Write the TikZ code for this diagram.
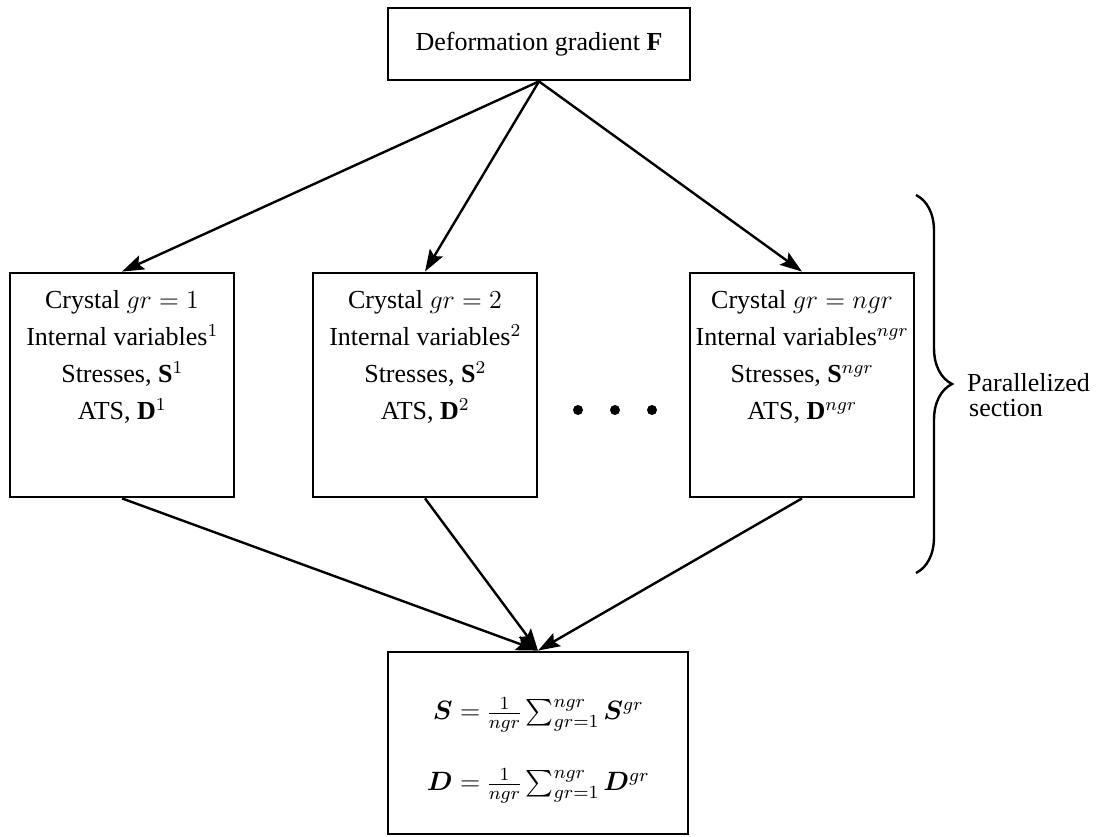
\RequirePackage{fix-cm}
\documentclass[tikz,border=0pt]{standalone}
\usepackage{amsmath}
\usepackage{bm}
\usepackage[no-math]{fontspec}
\setmainfont{Liberation Serif}
\DeclareFontShape{OML}{cmm}{m}{it}{<-15>cmmi6 <15-22>cmmi8 <22->cmmi12}{}
\DeclareFontShape{OML}{cmm}{b}{it}{<-15>cmmib6 <15-22>cmmib8 <22->cmmib10}{}
\DeclareFontShape{OT1}{cmr}{m}{n}{<-15>cmr6 <15-22>cmr8 <22->cmr12}{}
\DeclareFontShape{OMS}{cmsy}{m}{n}{<-15>cmsy6 <15-22>cmsy8 <22->cmsy10}{}
\DeclareFontShape{OMX}{cmex}{m}{n}{<->cmex10}{}
\usetikzlibrary{arrows.meta,decorations.pathreplacing}
\begin{document}
\begin{tikzpicture}[x=1pt,y=-1pt,
  box/.style={draw,line width=2.8pt,inner sep=0pt},
  arr/.style={line width=2.4pt,-{Stealth[length=22pt,width=15pt,inset=4pt]}},
  lbl/.style={font=\fontsize{26}{37}\selectfont,align=center,inner sep=0pt},
  eq/.style={font=\fontsize{26.5}{36}\selectfont,inner sep=0pt},
  dot/.style={circle,fill,inner sep=0pt,minimum size=10pt}]
\useasboundingbox (0,0) rectangle (1101,837);

% top box
\node[box,lbl,minimum width=302pt,minimum height=72pt] (F) at (539,44) {Deformation gradient \textbf{F}};

% crystal boxes
\node[box,minimum width=224pt,minimum height=224pt] (c1) at (122,385) {};
\node[box,minimum width=224pt,minimum height=224pt] (c2) at (425,385) {};
\node[box,minimum width=224pt,minimum height=224pt] (c3) at (802,385) {};

\node[lbl] (t1) at (122,357) {Crystal $gr=1$\\ Internal variables$^1$\\ Stresses, \textbf{S}$^1$\\ ATS, \textbf{D}$^1$};
\node[lbl] (t2) at (425,357) {Crystal $gr=2$\\ Internal variables$^2$\\ Stresses, \textbf{S}$^2$\\ ATS, \textbf{D}$^2$};
\node[lbl] (t3) at (802,357) {Crystal $gr=ngr$\\ Internal variables$^{ngr}$\\ Stresses, \textbf{S}$^{ngr}$\\ ATS, \textbf{D}$^{ngr}$};

% dots
\node[dot] (d1) at (578,410) {};
\node[dot] (d2) at (615,410) {};
\node[dot] (d3) at (652,410) {};

% bottom box
\node[box,minimum width=300pt,minimum height=182pt] (sum) at (538,743) {};
\node[eq] (eqS) at (538,715) {$\bm{S}=\frac{1}{ngr}\sum_{gr=1}^{ngr}\bm{S}^{gr}$};
\node[eq] (eqD) at (538,786) {$\bm{D}=\frac{1}{ngr}\sum_{gr=1}^{ngr}\bm{D}^{gr}$};

% arrows
\draw[arr] (F.south) -- (c1.north);
\draw[arr] (F.south) -- (c2.north);
\draw[arr] (F.south) -- (c3.north);
\draw[arr] (c1.south) -- (sum.north);
\draw[arr] (c2.south) -- (sum.north);
\draw[arr] (c3.south) -- (sum.north);

% brace
\coordinate (bt) at (916,195);
\coordinate (bb) at (916,573);
\draw[line width=2.4pt,decorate,decoration={brace,amplitude=36pt}] (bt) -- (bb);
\node[font=\fontsize{26}{25}\selectfont,align=left,inner sep=0pt,anchor=west] (par) at (967,395) {Parallelized\\ \hspace{2pt}section};
\end{tikzpicture}
\end{document}
